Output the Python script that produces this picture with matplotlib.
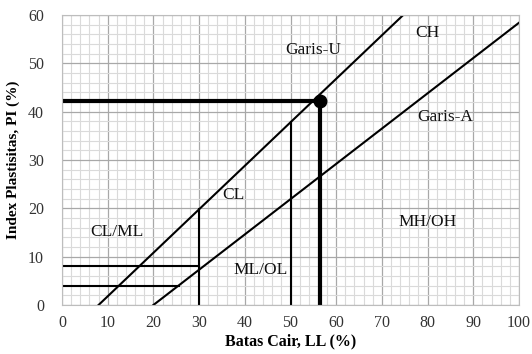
import matplotlib
matplotlib.use("Agg")
import matplotlib.pyplot as plt
import numpy as np

# Data
u_line_ll = [8, 74.67]
u_line_pi = [0, 60]
a_line_ll = [20, 100]
a_line_pi = [0, 58.4]
h8_ll = [0, 30]; h8_pi = [8, 8]
h4_ll = [0, 25.5]; h4_pi = [4, 4]
v30_ll = [30, 30]; v30_pi = [0, 19.8]
v50_ll = [50, 50]; v50_pi = [0, 37.8]
point_ll = 56.5
point_pi = 42.3
labels = ["Garis-U", "CH", "Garis-A", "CL", "CL/ML", "ML/OL", "MH/OH"]
label_ll = [54.9, 79.9, 83.8, 37.4, 12.0, 43.5, 80.0]
label_pi = [52.8, 56.3, 38.9, 22.8, 15.1, 7.2, 17.2]
xticks = list(range(0, 101, 10))
yticks = list(range(0, 61, 10))

plt.rcParams['font.family'] = ['Liberation Serif', 'DejaVu Serif']

fig = plt.figure(figsize=(5.32, 3.54), dpi=100)
ax = fig.add_axes([62/532, 1 - 305/354, 457/532, 290/354])
ax.set_xlim(0, 100)
ax.set_ylim(0, 60)
ax.set_xticks(xticks)
ax.set_yticks(yticks)
ax.set_xticks(np.arange(0, 101, 2), minor=True)
ax.set_yticks(np.arange(0, 61, 2), minor=True)
ax.grid(which='minor', color='#dadada', linewidth=0.8)
ax.grid(which='major', color='#a8a8a8', linewidth=0.9)
ax.set_axisbelow(True)
for s in ax.spines.values():
    s.set_color('#bdbdbd')
    s.set_linewidth(0.8)
ax.tick_params(which='both', length=0, labelsize=11.5, colors='#333333')
ax.tick_params(axis='y', pad=13)
ax.tick_params(axis='x', pad=7)

lw = 1.5
ax.plot(u_line_ll, u_line_pi, color='black', lw=lw)
ax.plot(a_line_ll, a_line_pi, color='black', lw=lw)
ax.plot(h8_ll, h8_pi, color='black', lw=lw)
ax.plot(h4_ll, h4_pi, color='black', lw=lw)
ax.plot(v30_ll, v30_pi, color='black', lw=lw)
ax.plot(v50_ll, v50_pi, color='black', lw=lw)
ax.plot([0, point_ll], [point_pi, point_pi], color='black', lw=3)
ax.plot([point_ll, point_ll], [0, point_pi], color='black', lw=3)
ax.plot([point_ll], [point_pi], 'o', color='black', markersize=9, clip_on=False)

for t, x, y in zip(labels, label_ll, label_pi):
    ax.text(x, y, t, ha='center', va='center', fontsize=12.5, color='#111111')

ax.set_xlabel('Batas Cair, LL (%)', fontsize=11.5, fontweight='bold', labelpad=2)
ax.set_ylabel('Index Plastisitas, PI (%)', fontsize=11, fontweight='bold', labelpad=6)

fig.savefig('out.png', dpi=100)
